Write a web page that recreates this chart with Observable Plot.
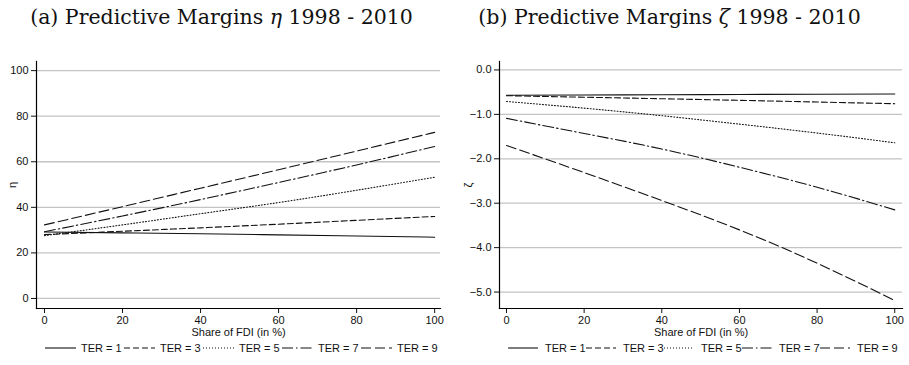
<!DOCTYPE html>
<html>
<head>
<meta charset="utf-8">
<script src="https://cdn.jsdelivr.net/npm/d3@7"></script>
<script src="https://cdn.jsdelivr.net/npm/@observablehq/plot@0.6"></script>
<style>
  body { margin: 0; background: #fff; }
  #root { position: relative; width: 909px; height: 365px; overflow: hidden; background: #fff; }
  .title { position: absolute; top: 5px; font-family: "DejaVu Serif", "Liberation Serif", serif; font-size: 20.5px; line-height: 24px; color: #111; white-space: nowrap; text-align: center; }
  .panel { position: absolute; top: 45px; }
  .legend { position: absolute; top: 340px; height: 16px; display: flex; align-items: center; font-family: "Liberation Sans", Arial, sans-serif; font-size: 11px; color: #111; white-space: nowrap; }
  .legend .item { display: flex; align-items: center; }
  .legend svg { display: block; }
</style>
</head>
<body>
<div id="root"></div>
<script>
// Share of FDI (in %) at which the predictive margins are evaluated
const fdi = [0, 20, 40, 60, 80, 100];
const terLabels = ["TER = 1", "TER = 3", "TER = 5", "TER = 7", "TER = 9"];

// Predictive margins of eta by TER level
const etaTer1 = [29.2, 28.8, 28.4, 27.9, 27.4, 26.9];
const etaTer3 = [28.0, 29.5, 31.0, 32.6, 34.3, 36.0];
const etaTer5 = [27.6, 32.3, 37.2, 42.1, 47.5, 53.2];
const etaTer7 = [29.3, 36.2, 43.4, 50.9, 58.6, 66.7];
const etaTer9 = [32.3, 40.3, 48.4, 56.5, 64.7, 72.9];

// Predictive margins of zeta by TER level
const zetaTer1 = [-0.57, -0.564, -0.558, -0.552, -0.546, -0.54];
const zetaTer3 = [-0.58, -0.614, -0.648, -0.684, -0.722, -0.76];
const zetaTer5 = [-0.71, -0.86, -1.03, -1.22, -1.42, -1.64];
const zetaTer7 = [-1.09, -1.43, -1.78, -2.19, -2.64, -3.15];
const zetaTer9 = [-1.70, -2.31, -2.94, -3.60, -4.35, -5.19];

// Axis ticks
const etaTicks = [0, 20, 40, 60, 80, 100];
const zetaTicks = [0, -1, -2, -3, -4, -5];
const fdiTicks = [0, 20, 40, 60, 80, 100];

// Line styles per TER level (solid, dash, dot, long dash-dot, long dash)
const dashes = [null, "6,3", "1,2", "11,3,1.5,3", "10,4"];

const etaSeries = [etaTer1, etaTer3, etaTer5, etaTer7, etaTer9];
const zetaSeries = [zetaTer1, zetaTer3, zetaTer5, zetaTer7, zetaTer9];

function rows(series) {
  return series.map((vals, i) => fdi.map((x, j) => ({x, y: vals[j], ter: terLabels[i]})));
}

const axisFont = '"Liberation Sans", Arial, sans-serif';

function panel({series, yDomain, yTicks, yFormat, yLabel, width, marginLeft, marginRight, xDomain, labelOffsetY}) {
  const data = rows(series);
  return Plot.plot({
    width,
    height: 300,
    marginTop: 16,
    marginBottom: 37,
    marginLeft,
    marginRight,
    style: {fontFamily: axisFont, fontSize: "11px", color: "#111", background: "transparent"},
    x: {domain: xDomain},
    y: {domain: yDomain},
    marks: [
      Plot.gridY(yTicks, {stroke: "#c4c4c4", strokeOpacity: 1, strokeWidth: 1.3}),
      ...data.map((d, i) => Plot.line(d, {x: "x", y: "y", curve: "natural", stroke: "#111", strokeWidth: 1.1, strokeDasharray: dashes[i]})),
      Plot.axisY(yTicks, {tickSize: 5, tickPadding: 3, tickFormat: yFormat, label: yLabel, labelAnchor: "center", labelArrow: "none", labelOffset: labelOffsetY, fontSize: 11}),
      Plot.axisX(fdiTicks, {tickSize: 5, tickPadding: 3, label: "Share of FDI (in %)", labelAnchor: "center", labelArrow: "none", labelOffset: 27, fontSize: 11}),
      Plot.frame({anchor: "left", stroke: "#000", strokeWidth: 1.2}),
      Plot.frame({anchor: "bottom", stroke: "#000", strokeWidth: 1.2})
    ]
  });
}

const root = document.getElementById("root");

function addTitle(html, left, width) {
  const t = document.createElement("div");
  t.className = "title";
  t.style.left = left + "px";
  t.style.width = width + "px";
  t.innerHTML = html;
  root.appendChild(t);
}

function addPanel(svg, left) {
  const wrap = document.createElement("div");
  wrap.className = "panel";
  wrap.style.left = left + "px";
  wrap.appendChild(svg);
  root.appendChild(wrap);
}

function addLegend(left, swatchWidth, gap, itemWidth) {
  const lg = document.createElement("div");
  lg.className = "legend";
  lg.style.left = left + "px";
  terLabels.forEach((label, i) => {
    const item = document.createElement("div");
    item.className = "item";
    item.style.width = itemWidth + "px";
    const ns = "http://www.w3.org/2000/svg";
    const s = document.createElementNS(ns, "svg");
    s.setAttribute("width", swatchWidth);
    s.setAttribute("height", 10);
    const ln = document.createElementNS(ns, "line");
    ln.setAttribute("x1", 0); ln.setAttribute("x2", swatchWidth);
    ln.setAttribute("y1", 5); ln.setAttribute("y2", 5);
    ln.setAttribute("stroke", "#111");
    ln.setAttribute("stroke-width", 1.1);
    if (dashes[i]) ln.setAttribute("stroke-dasharray", dashes[i]);
    s.appendChild(ln);
    const txt = document.createElement("span");
    txt.style.marginLeft = gap + "px";
    txt.textContent = label;
    item.appendChild(s);
    item.appendChild(txt);
    lg.appendChild(item);
  });
  root.appendChild(lg);
}

addTitle('(a) Predictive Margins <i>η</i> 1998 - 2010', 0, 443);
addTitle('(b) Predictive Margins <i>ζ</i> 1998 - 2010', 454, 431);

addPanel(panel({
  series: etaSeries,
  yDomain: [-4.4, 104],
  yTicks: etaTicks,
  yFormat: d3.format("d"),
  yLabel: "η",
  width: 454,
  marginLeft: 36,
  marginRight: 14,
  xDomain: [-2.05, 101.5],
  labelOffsetY: 28
}), 0);

addPanel(panel({
  series: zetaSeries,
  yDomain: [-5.37, 0.19],
  yTicks: zetaTicks,
  yFormat: d3.format(".1f"),
  yLabel: "ζ",
  width: 455,
  marginLeft: 45,
  marginRight: 7,
  xDomain: [-1.8, 102],
  labelOffsetY: 35
}), 454);

addLegend(45, 31, 5, 79);
addLegend(508, 30, 7, 78);
</script>
</body>
</html>
